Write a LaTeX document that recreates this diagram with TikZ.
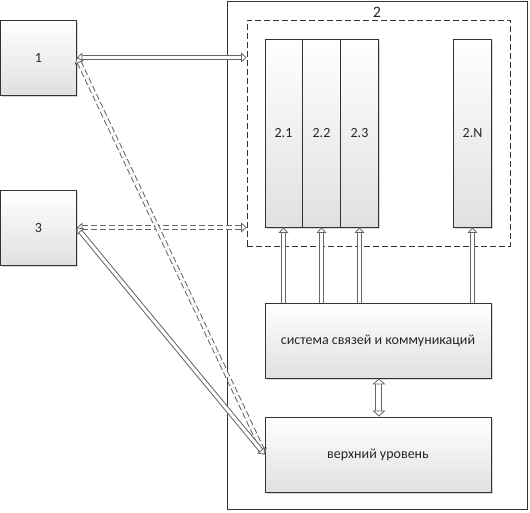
\documentclass[tikz,border=0pt]{standalone}
\usepackage{fontspec}
\setmainfont{Carlito}
\usetikzlibrary{arrows.meta,shadows}
\tikzset{hd/.tip={Triangle[open, fill=white, length=5.5pt, width=10pt, line width=0.8pt]},
  bhd/.tip={Triangle[open, fill=white, length=6pt, width=13pt, line width=0.8pt]}}
\begin{document}
\begin{tikzpicture}[x=1pt,y=-1pt,
  blk/.style={draw=black!80, line width=0.9pt, top color=white, bottom color=black!12,
    inner sep=0pt, text=black!85, font=\fontsize{14}{16}\selectfont,
    drop shadow={shadow xshift=1.5pt, shadow yshift=-1.5pt, fill=black!30, opacity=0.5}},
  dbl/.style={draw=black!60, line width=1pt, double=white, double distance=3pt, {hd}-{hd}},
  up/.style={draw=black!60, line width=1pt, double=white, double distance=3pt, -{hd}},
  big/.style={draw=black!60, line width=1pt, double=white, double distance=5pt, {bhd}-{bhd}},
  dsh/.style={dash pattern=on 6pt off 3pt}]
\useasboundingbox (0,0) rectangle (530,512);
% outer box 2
\node[draw=black!80, line width=0.9pt, minimum width=300pt, minimum height=508pt, inner sep=0pt] (two) at (377,255) {};
\node[text=black!85, font=\fontsize{16}{18}\selectfont] (twolab) at (377,12) {2};
\node[draw=black!80, line width=0.9pt, dsh, minimum width=263pt, minimum height=226pt, inner sep=0pt] (grp) at (378.5,133) {};
% left boxes
\node[blk, minimum width=76pt, minimum height=75pt] (one) at (38.5,57.5) {1};
\node[blk, minimum width=76pt, minimum height=75pt] (three) at (38.5,227.5) {3};
% columns
\node[blk, minimum width=37pt, minimum height=188pt] (c21) at (283.5,133) {2.1};
\node[blk, minimum width=38pt, minimum height=188pt] (c22) at (321.5,133) {2.2};
\node[blk, minimum width=38pt, minimum height=188pt] (c23) at (359.5,133) {2.3};
\node[blk, minimum width=38pt, minimum height=188pt] (c2n) at (472.5,133) {2.N};
% lower boxes
\node[blk, minimum width=226pt, minimum height=75pt] (sys) at (378,340.5) {система связей и коммуникаций};
\node[blk, minimum width=226pt, minimum height=75pt] (top) at (378,454.5) {верхний уровень};
% connectors
\draw[dbl] (one.east) -- (one.east -| grp.west);
\draw[dbl, dsh] (three.east) -- (three.east -| grp.west);
\draw[dbl, dsh] (one.east) -- (top.west);
\draw[dbl] (three.east) -- (top.west);
\draw[up] (c21.south |- sys.north) -- (c21.south);
\draw[up] (c22.south |- sys.north) -- (c22.south);
\draw[up] (c23.south |- sys.north) -- (c23.south);
\draw[up] (c2n.south |- sys.north) -- (c2n.south);
\draw[big] (sys.south -| c23.east) -- (top.north -| c23.east);
\end{tikzpicture}
\end{document}
